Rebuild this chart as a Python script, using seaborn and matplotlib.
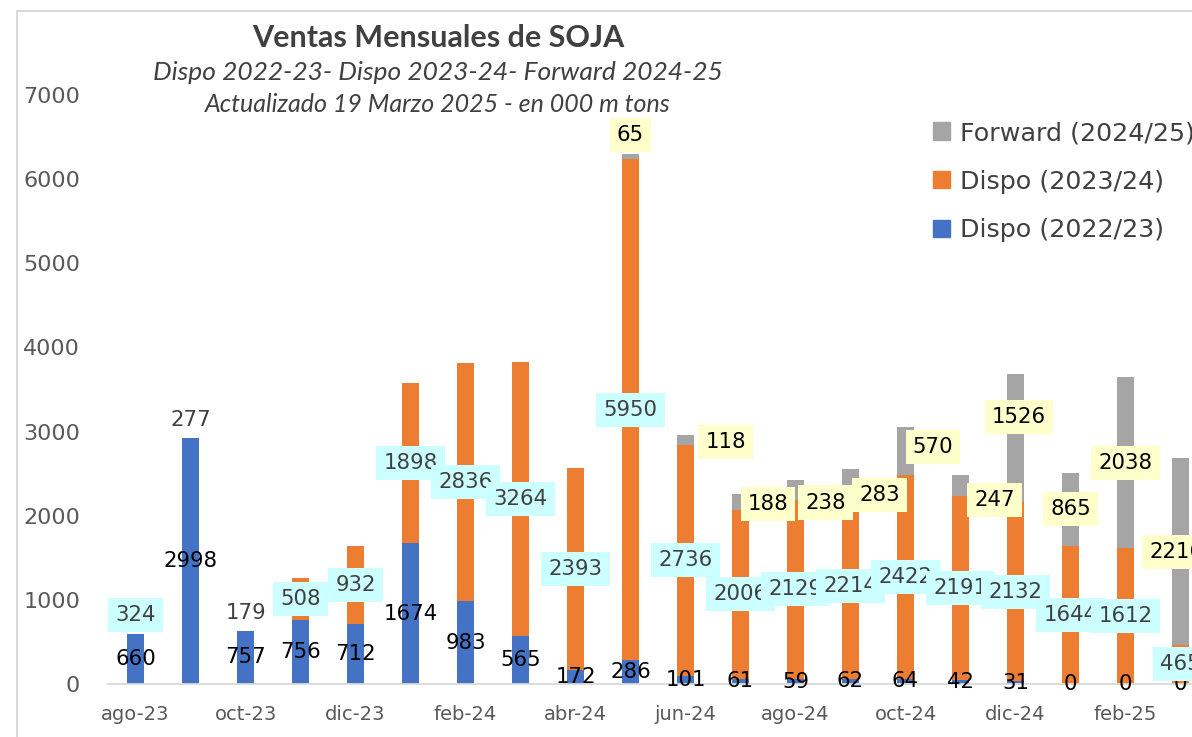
import matplotlib
matplotlib.use("Agg")
import matplotlib.pyplot as plt
import seaborn as sns
import pandas as pd
import numpy as np
from matplotlib.patches import Patch
from matplotlib.lines import Line2D

# ---------------- data ----------------
meses = ["ago-23", "sep-23", "oct-23", "nov-23", "dic-23", "ene-24", "feb-24", "mar-24",
         "abr-24", "may-24", "jun-24", "jul-24", "ago-24", "sep-24", "oct-24", "nov-24",
         "dic-24", "ene-25", "feb-25", "mar-25"]
# bar heights (000 t)
dispo_2223 = [600, 2925, 630, 756, 712, 1674, 983, 565, 172, 286, 101, 61, 59, 62, 64, 42, 31, 0, 0, 0]
dispo_2324 = [0, 0, 0, 508, 932, 1898, 2836, 3264, 2393, 5950, 2736, 2006, 2129, 2214, 2422, 2191,
              2132, 1644, 1612, 465]
forward_2425 = [0, 0, 0, 0, 0, 0, 0, 0, 0, 65, 118, 188, 238, 283, 570, 247, 1526, 865, 2038, 2216]
# data label texts as printed in the chart
lbl_2223 = [660, 2998, 757, 756, 712, 1674, 983, 565, 172, 286, 101, 61, 59, 62, 64, 42, 31, 0, 0, 0]
lbl_2324 = [324, 277, 179, 508, 932, 1898, 2836, 3264, 2393, 5950, 2736, 2006, 2129, 2214, 2422,
            2191, 2132, 1644, 1612, 465]
lbl_2425 = [None] * 9 + [65, 118, 188, 238, 283, 570, 247, 1526, 865, 2038, 2216]
ticks_shown = meses[::2]

# label layout tweaks (category units / value units)
fw_dx = [0] * 9 + [0, 0.73, 0.5, 0.55, 0.53, 0.5, 0.62, 0.06, 0, 0, -0.08]
fw_dy = [0] * 9 + [0, -20, -20, -150, -170, 40, -170, 250, 0, 0, 0]

BLUE, ORANGE, GRAY = "#4472C4", "#ED7D31", "#A5A5A5"
CYAN_BG, YEL_BG = "#CCFFFF", "#FFFFCC"
TXT = "#404040"

df = pd.DataFrame({"mes": meses, "d2223": dispo_2223, "d2324": dispo_2324, "f2425": forward_2425})
df["tot_o"] = df["d2223"] + df["d2324"]
df["tot_g"] = df["tot_o"] + df["f2425"]

sns.set_theme(style="white")
plt.rcParams["font.family"] = ["DejaVu Sans"]

W, H = 1192, 737
fig = plt.figure(figsize=(W / 100, H / 100), dpi=100)

# chart border (Excel chart area)
fig.add_artist(Line2D([17 / W, 17 / W], [0, 1 - 11 / H], transform=fig.transFigure, color="#D9D9D9", lw=1.5))
fig.add_artist(Line2D([17 / W, 1], [1 - 11 / H, 1 - 11 / H], transform=fig.transFigure, color="#D9D9D9", lw=1.5))

ax = fig.add_axes([108 / W, 53 / H, 1100 / W, 589 / H])
bw = 0.31
sns.barplot(data=df, x="mes", y="tot_g", color=GRAY, width=bw, saturation=1, linewidth=0, ax=ax, order=meses)
sns.barplot(data=df, x="mes", y="tot_o", color=ORANGE, width=bw, saturation=1, linewidth=0, ax=ax, order=meses)
sns.barplot(data=df, x="mes", y="d2223", color=BLUE, width=bw, saturation=1, linewidth=0, ax=ax, order=meses)

ax.set_xlim(-0.5, len(meses) - 0.5)
ax.set_ylim(0, 7000)
ax.set_xlabel("")
ax.set_ylabel("")
for s in ["top", "right", "left"]:
    ax.spines[s].set_visible(False)
ax.spines["bottom"].set_color("#D9D9D9")
ax.spines["bottom"].set_linewidth(1.3)
ax.set_yticks(range(0, 7001, 1000))
ax.set_yticklabels([str(v) for v in range(0, 7001, 1000)])
ax.set_xticks(range(0, len(meses), 2))
ax.set_xticklabels(ticks_shown)
ax.tick_params(axis="y", length=0, pad=20, labelsize=16, labelcolor="#595959")
ax.tick_params(axis="x", length=0, pad=15, labelsize=14, labelcolor="#595959")

lab_fs = 15.3
for i in range(len(meses)):
    b = dispo_2223[i]
    o = dispo_2324[i]
    g = forward_2425[i]
    # blue labels
    ax.text(i, b / 2, str(lbl_2223[i]), ha="center", va="center", fontsize=lab_fs, color="black", zorder=5)
    # orange labels
    if i < 3:
        bbox = dict(boxstyle="square,pad=0.33", fc=CYAN_BG, ec="none") if i == 0 else None
        ax.text(i, b + 215, str(lbl_2324[i]), ha="center", va="center", fontsize=lab_fs, color=TXT,
                bbox=bbox, zorder=6)
    else:
        ax.text(i, b + o / 2, str(lbl_2324[i]), ha="center", va="center", fontsize=lab_fs, color=TXT,
                bbox=dict(boxstyle="square,pad=0.33", fc=CYAN_BG, ec="none"), zorder=6)
    # forward labels
    if lbl_2425[i] is not None:
        if i == 9:
            y = b + o + g + 227
        else:
            y = b + o + g / 2 + fw_dy[i]
        ax.text(i + fw_dx[i], y, str(lbl_2425[i]), ha="center", va="center", fontsize=lab_fs,
                color="black", bbox=dict(boxstyle="square,pad=0.33", fc=YEL_BG, ec="none"), zorder=7)

# titles
fig.text(438 / W, 1 - 38 / H, "Ventas Mensuales de SOJA", ha="center", va="center",
         fontsize=22, fontweight="bold", color=TXT, family=["Lato", "DejaVu Sans"])
fig.text(438 / W, 1 - 73 / H, "Dispo 2022-23- Dispo 2023-24- Forward 2024-25", ha="center", va="center",
         fontsize=19, style="italic", color=TXT, family=["Lato", "DejaVu Sans"])
fig.text(438 / W, 1 - 105 / H, "Actualizado 19 Marzo 2025 - en 000 m tons", ha="center", va="center",
         fontsize=18, style="italic", color=TXT, family=["Lato", "DejaVu Sans"])

# legend
handles = [Patch(color=GRAY), Patch(color=ORANGE), Patch(color=BLUE)]
labels = ["Forward (2024/25)", "Dispo (2023/24)", "Dispo (2022/23)"]
fig.legend(handles, labels, loc="upper left", bbox_to_anchor=(933 / W, 1 - 121 / H), frameon=False,
           fontsize=18.3, labelcolor=TXT, handlelength=0.68, handleheight=0.68, handletextpad=0.4,
           labelspacing=0.97, borderpad=0, borderaxespad=0)

fig.savefig("out.png", dpi=100)
